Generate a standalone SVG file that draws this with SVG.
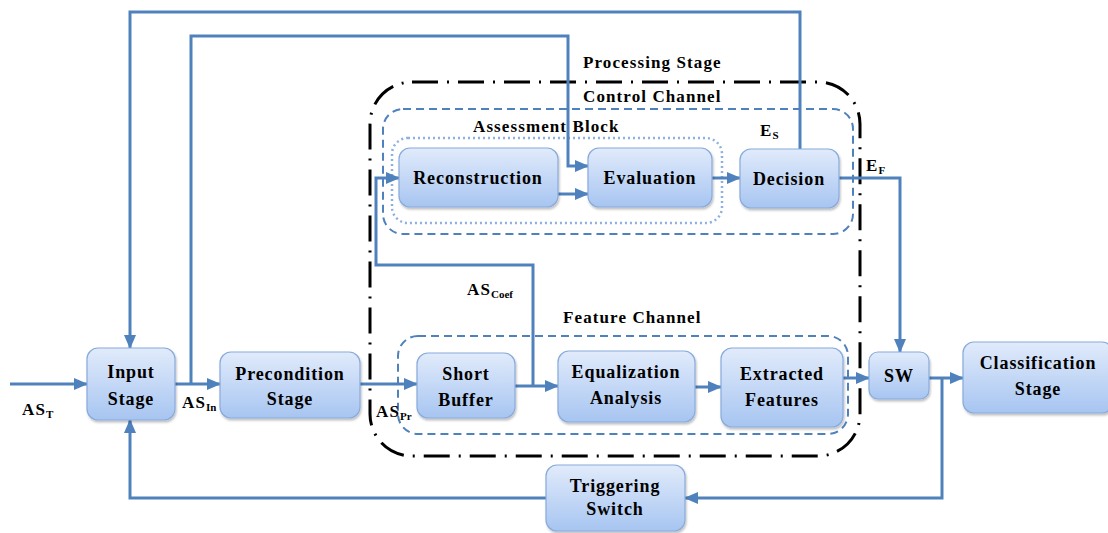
<svg xmlns="http://www.w3.org/2000/svg" width="1108" height="533" viewBox="0 0 1108 533">
<defs>
<linearGradient id="g" x1="0" y1="0" x2="0" y2="1">
<stop offset="0" stop-color="#e1ebfb"/>
<stop offset="1" stop-color="#a7c5f1"/>
</linearGradient>
<marker id="a" markerUnits="userSpaceOnUse" markerWidth="14" markerHeight="12" refX="13" refY="6" orient="auto">
<path d="M0,0 L14,6 L0,12 Z" fill="#4f81bd"/>
</marker>
<filter id="s" x="-10%" y="-10%" width="130%" height="140%">
<feDropShadow dx="1" dy="2" stdDeviation="1.2" flood-color="#000" flood-opacity="0.25"/>
</filter>
</defs>
<style>
.box{fill:url(#g);stroke:#88abdc;stroke-width:1.2;filter:url(#s)}
.t{font-family:"Liberation Serif","DejaVu Serif",serif;font-weight:bold;font-size:18px;letter-spacing:0.9px;fill:#000;text-anchor:middle}
.l{font-family:"Liberation Serif","DejaVu Serif",serif;font-weight:bold;font-size:17px;letter-spacing:1.1px;fill:#000}
.sub{font-size:11px;letter-spacing:0}
.c{fill:none;stroke:#4f81bd;stroke-width:3}
.ca{fill:none;stroke:#4f81bd;stroke-width:3;marker-end:url(#a)}
</style>

<!-- containers -->
<g id="processing-stage">
<rect x="370" y="82" width="490" height="374" rx="42" fill="none" stroke="#000" stroke-width="3" stroke-dasharray="26 9 2 9"/>
<text class="l" x="583" y="68">Processing Stage</text>
</g>
<g id="control-channel">
<rect x="383" y="109" width="470" height="125" rx="20" fill="none" stroke="#4f81bd" stroke-width="2" stroke-dasharray="8 5"/>
<text class="l" x="583" y="102">Control Channel</text>
</g>
<g id="assessment-block">
<rect x="392" y="138" width="330" height="85" rx="16" fill="none" stroke="#8eb0df" stroke-width="2.5" stroke-dasharray="2 3"/>
<text class="l" x="473" y="132">Assessment Block</text>
</g>
<g id="feature-channel">
<rect x="398" y="336" width="450" height="98" rx="20" fill="none" stroke="#4f81bd" stroke-width="2" stroke-dasharray="8 5"/>
<text class="l" x="563" y="323">Feature Channel</text>
</g>

<!-- connectors -->
<g id="connectors">
<path class="ca" d="M10,384 H87"/>
<path class="ca" d="M175,384 H220"/>
<path class="ca" d="M800,150 V12 H130 V348"/>
<path class="ca" d="M191,384 V36 H568 V166 H588"/>
<path class="ca" d="M360,384 H417"/>
<path class="ca" d="M515,386 H558"/>
<path class="ca" d="M533,386 V265 H376 V178 H399"/>
<path class="ca" d="M558,194 H588"/>
<path class="ca" d="M712,178 H740"/>
<path class="ca" d="M839,178 H900 V352"/>
<path class="ca" d="M695,387 H721"/>
<path class="ca" d="M843,378 H869"/>
<path class="ca" d="M929,378 H963"/>
<path class="ca" d="M942,378 V498 H685"/>
<path class="ca" d="M546,498 H130 V420"/>
</g>

<!-- nodes -->
<g id="input-stage">
<rect class="box" x="87" y="348" width="88" height="72" rx="11"/>
<text class="t" x="131" y="378">Input</text>
<text class="t" x="131" y="405">Stage</text>
</g>
<g id="precondition-stage">
<rect class="box" x="220" y="352" width="140" height="66" rx="11"/>
<text class="t" x="290" y="380">Precondition</text>
<text class="t" x="290" y="405">Stage</text>
</g>
<g id="reconstruction">
<rect class="box" x="399" y="148" width="159" height="59" rx="11"/>
<text class="t" x="478" y="184">Reconstruction</text>
</g>
<g id="evaluation">
<rect class="box" x="588" y="148" width="124" height="59" rx="11"/>
<text class="t" x="650" y="184">Evaluation</text>
</g>
<g id="decision">
<rect class="box" x="740" y="149" width="99" height="59" rx="11"/>
<text class="t" x="789" y="185">Decision</text>
</g>
<g id="short-buffer">
<rect class="box" x="417" y="353" width="98" height="65" rx="11"/>
<text class="t" x="466" y="380">Short</text>
<text class="t" x="466" y="406">Buffer</text>
</g>
<g id="equalization-analysis">
<rect class="box" x="558" y="351" width="137" height="71" rx="11"/>
<text class="t" x="626" y="378">Equalization</text>
<text class="t" x="626" y="404">Analysis</text>
</g>
<g id="extracted-features">
<rect class="box" x="721" y="348" width="122" height="79" rx="11"/>
<text class="t" x="782" y="380">Extracted</text>
<text class="t" x="782" y="406">Features</text>
</g>
<g id="sw">
<rect class="box" x="869" y="352" width="60" height="47" rx="9"/>
<text class="t" x="899" y="382">SW</text>
</g>
<g id="classification-stage">
<rect class="box" x="963" y="342" width="150" height="71" rx="11"/>
<text class="t" x="1038" y="369">Classification</text>
<text class="t" x="1038" y="395">Stage</text>
</g>
<g id="triggering-switch">
<rect class="box" x="546" y="465" width="139" height="66" rx="11"/>
<text class="t" x="615" y="492">Triggering</text>
<text class="t" x="615" y="515">Switch</text>
</g>

<!-- signal labels -->
<g id="labels">
<text class="l" x="22" y="415">AS<tspan class="sub" dy="3">T</tspan></text>
<text class="l" x="182" y="408">AS<tspan class="sub" dy="3">In</tspan></text>
<text class="l" x="376" y="417">AS<tspan class="sub" dy="3">Pr</tspan></text>
<text class="l" x="467" y="295">AS<tspan class="sub" dy="3">Coef</tspan></text>
<text class="l" x="760" y="136">E<tspan class="sub" dy="3">S</tspan></text>
<text class="l" x="866" y="171">E<tspan class="sub" dy="3">F</tspan></text>
</g>
</svg>
